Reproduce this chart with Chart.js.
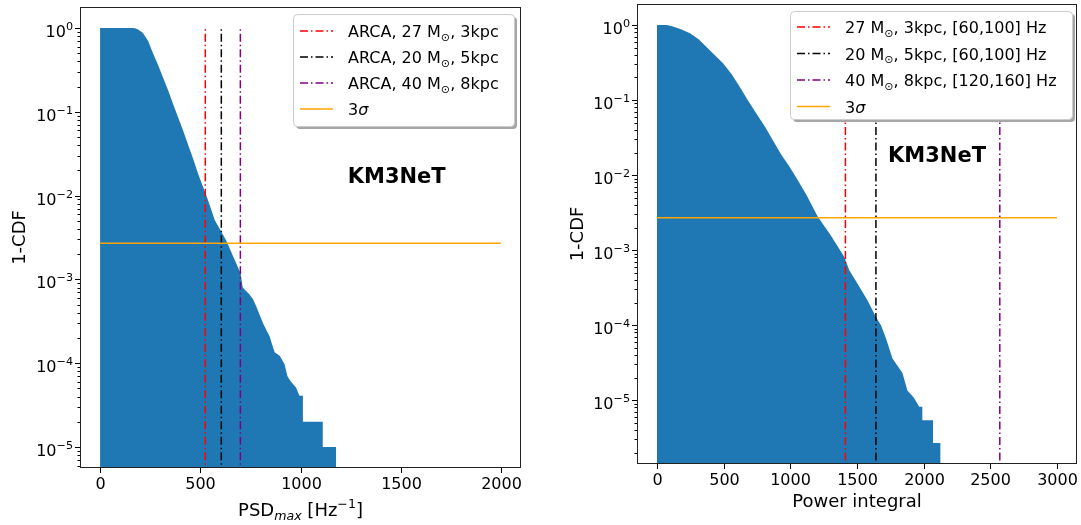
<!DOCTYPE html>
<html>
<head>
<meta charset="utf-8">
<script src="https://cdn.jsdelivr.net/npm/chart.js@4.4.0/dist/chart.umd.min.js"></script>
<style>
  body { margin: 0; background: #fff; width: 1081px; height: 525px; overflow: hidden; }
  canvas { position: absolute; top: 0; }
</style>
</head>
<body>
<canvas id="psdChart" width="540" height="525" style="left:0"></canvas>
<canvas id="powChart" width="541" height="525" style="left:540px"></canvas>
<script>
// left panel: 1-CDF of PSD_max (smooth body, then the last few wide bins)
const psdX = [0, 160, 175, 190, 214, 240, 264, 290, 313, 340, 363, 390, 413, 440, 463, 490, 513, 538, 572, 605, 630, 663, 700,
    712, 721, 746, 763, 779, 796, 813, 829, 846, 854, 871, 896, 920, 935, 949, 978, 995];
const psdCdf = [1, 1, 0.99, 0.96, 0.87, 0.70, 0.50, 0.36, 0.26, 0.18, 0.126, 0.085, 0.061, 0.040, 0.028, 0.018, 0.0128, 0.0089, 0.0051, 0.0037, 0.0029, 0.0019, 0.0012,
    8.0e-4, 7.6e-4, 6.6e-4, 5.8e-4, 4.8e-4, 3.8e-4, 3.0e-4, 2.5e-4, 2.1e-4, 1.8e-4, 1.35e-4, 1.23e-4, 9.8e-5, 7.0e-5, 6.2e-5, 5.1e-5, 4.1e-5];
const psdTailEdges = [995, 1012, 1111, 1178];
const psdTailCdf = [4.1e-5, 2.0e-5, 1.0e-5];
const psdSignalX = [525, 605, 700];
const psdSignalLabels = ['ARCA, 27 M_{⊙}, 3kpc', 'ARCA, 20 M_{⊙}, 5kpc', 'ARCA, 40 M_{⊙}, 8kpc'];
const psdXTicks = [0, 500, 1000, 1500, 2000];

// right panel: 1-CDF of the power integral
const powX = [0, 75, 125, 180, 247, 310, 371, 430, 495, 560, 620, 680, 745, 810, 870, 930, 994, 1055, 1119, 1205, 1300, 1405,
    1442, 1503, 1578, 1642, 1680, 1717, 1766, 1841, 1878, 1928, 1966];
const powCdf = [1, 1, 0.95, 0.88, 0.775, 0.65, 0.51, 0.40, 0.31, 0.22, 0.15, 0.10, 0.066, 0.044, 0.029, 0.019, 0.0129, 0.0086, 0.0055, 0.0028, 0.0016, 8.1e-4,
    5.4e-4, 3.6e-4, 2.15e-4, 1.29e-4, 1.0e-4, 6.7e-5, 3.6e-5, 2.3e-5, 1.35e-5, 1.07e-5, 8.2e-6];
const powTailEdges = [1966, 1990, 2070, 2127];
const powTailCdf = [8.2e-6, 5.4e-6, 2.7e-6];
const powSignalX = [1413, 1642, 2571];
const powSignalLabels = ['27 M_{⊙}, 3kpc, [60,100] Hz', '20 M_{⊙}, 5kpc, [60,100] Hz', '40 M_{⊙}, 8kpc, [120,160] Hz'];
const powXTicks = [0, 500, 1000, 1500, 2000, 2500, 3000];

const signalColors = ['red', 'black', 'purple'];
const threeSigma = 2.7e-3;
const sigmaLabel = '3$σ$';
const yTitle = '1-CDF';

const FONT = '"DejaVu Sans", sans-serif';
const BLUE = '#1f77b4';
const DASHDOT = [8, 3, 1.5, 3];

// tiny mathtext: _{sub}, ^{sup}, $italic$
function parseRich(s) {
    const runs = [];
    let mode = 'n', it = false, buf = '';
    const push = () => { if (buf) runs.push({ t: buf, mode: mode, it: it }); buf = ''; };
    for (let i = 0; i < s.length; i++) {
        const c = s[i];
        if ((c === '_' || c === '^') && s[i + 1] === '{') { push(); mode = c === '_' ? 'sub' : 'sup'; i++; continue; }
        if (c === '}' && mode !== 'n') { push(); mode = 'n'; continue; }
        if (c === '$') { push(); it = !it; continue; }
        buf += c;
    }
    push();
    return runs;
}

function runFont(r, size, weight) {
    const s = r.mode === 'n' ? size : size * 0.7;
    return (r.it ? 'italic ' : '') + (weight || '') + ' ' + s + 'px ' + FONT;
}

function richWidth(ctx, runs, size, weight) {
    let w = 0;
    runs.forEach(r => { ctx.font = runFont(r, size, weight); w += ctx.measureText(r.t).width; });
    return w;
}

// draws at alphabetic baseline y, align 'left' | 'center' | 'right'
function drawRich(ctx, str, x, y, size, align, weight) {
    const runs = parseRich(str);
    const w = richWidth(ctx, runs, size, weight);
    let cx = align === 'center' ? x - w / 2 : align === 'right' ? x - w : x;
    ctx.textBaseline = 'alphabetic';
    ctx.textAlign = 'left';
    runs.forEach(r => {
        ctx.font = runFont(r, size, weight);
        let dy = 0;
        if (r.mode === 'sub') dy = size * 0.22;
        if (r.mode === 'sup') dy = -size * 0.42;
        ctx.fillText(r.t, cx, y + dy);
        cx += ctx.measureText(r.t).width;
    });
}

const decorPlugin = {
    id: 'decor',
    afterDraw(chart, args, o) {
        const { ctx, chartArea: a, scales: { x, y } } = chart;
        ctx.save();
        ctx.fillStyle = '#000';
        ctx.strokeStyle = '#000';
        ctx.lineWidth = 1;

        // x ticks + labels
        o.xTicks.forEach(v => {
            const px = Math.round(x.getPixelForValue(v)) + 0.5;
            ctx.beginPath();
            ctx.moveTo(px, a.bottom); ctx.lineTo(px, a.bottom + 5);
            ctx.stroke();
            drawRich(ctx, String(v), px, a.bottom + 21, 16, 'center');
        });

        // log y ticks: majors with 10^k labels, minors 2..9
        const kLo = Math.floor(Math.log10(y.min)), kHi = Math.ceil(Math.log10(y.max));
        for (let k = kLo; k <= kHi; k++) {
            for (let m = 1; m <= 9; m++) {
                const v = m * Math.pow(10, k);
                if (v < y.min || v > y.max) continue;
                const py = Math.round(y.getPixelForValue(v)) + 0.5;
                ctx.beginPath();
                ctx.moveTo(a.left, py); ctx.lineTo(a.left - (m === 1 ? 5 : 2.5), py);
                ctx.stroke();
                if (m === 1) {
                    const exp = k === 0 ? '0' : '−' + Math.abs(k);
                    drawRich(ctx, '10^{' + exp + '}', a.left - 7, py + 8, 16, 'right');
                }
            }
        }

        // spines
        ctx.strokeStyle = '#222';
        ctx.strokeRect(a.left + 0.5, a.top + 0.5, a.width - 1, a.height - 1);

        // axis titles
        drawRich(ctx, o.xTitle, (a.left + a.right) / 2, a.bottom + o.xTitleDy, 18, 'center');
        ctx.save();
        ctx.translate(o.yTitleX, (a.top + a.bottom) / 2);
        ctx.rotate(-Math.PI / 2);
        drawRich(ctx, yTitle, 0, 0, 18, 'center');
        ctx.restore();

        // KM3NeT tag
        drawRich(ctx, 'KM3NeT', x.getPixelForValue(o.tagX), y.getPixelForValue(o.tagY), 21, 'center', 'bold');

        // legend
        const L = o.legend;
        const items = chart.data.datasets.filter(d => d.label);
        ctx.fillStyle = 'rgba(0,0,0,0.35)';
        roundRect(ctx, L.x + 3, L.y + 3, L.w, L.h, 4); ctx.fill();
        ctx.fillStyle = '#fff';
        ctx.strokeStyle = '#cccccc';
        roundRect(ctx, L.x + 0.5, L.y + 0.5, L.w, L.h, 4); ctx.fill(); ctx.stroke();
        items.forEach((d, i) => {
            const ry = L.y + L.first + i * L.step;
            ctx.strokeStyle = d.borderColor;
            ctx.lineWidth = 1.5;
            ctx.setLineDash(d.borderDash || []);
            ctx.beginPath();
            ctx.moveTo(L.x + 7, ry); ctx.lineTo(L.x + 40, ry);
            ctx.stroke();
            ctx.setLineDash([]);
            ctx.fillStyle = '#000';
            drawRich(ctx, d.label, L.x + 55, ry + 6, 16, 'left');
        });
        ctx.restore();
    }
};

function roundRect(ctx, x, y, w, h, r) {
    ctx.beginPath();
    ctx.moveTo(x + r, y);
    ctx.arcTo(x + w, y, x + w, y + h, r);
    ctx.arcTo(x + w, y + h, x, y + h, r);
    ctx.arcTo(x, y + h, x, y, r);
    ctx.arcTo(x, y, x + w, y, r);
    ctx.closePath();
}

// one outline: read points of the body, then each wide tail bin as a flat top
function outline(xs, ys, edges, heights) {
    const pts = xs.map((v, i) => ({ x: v, y: ys[i] }));
    heights.forEach((h, i) => {
        pts.push({ x: edges[i], y: h });
        pts.push({ x: edges[i + 1], y: h });
    });
    return pts;
}

function makePanel(id, p) {
    const yBottom = 1e-12;
    const datasets = [
        { data: outline(p.bodyX, p.bodyY, p.tailEdges, p.tailY), fill: 'start', backgroundColor: BLUE,
          borderWidth: 0, borderColor: 'transparent', pointRadius: 0, order: 10 }
    ];
    p.signalX.forEach((sx, i) => {
        datasets.push({
            label: p.signalLabels[i],
            data: [{ x: sx, y: yBottom }, { x: sx, y: 1 }],
            borderColor: signalColors[i], borderWidth: 1.5, borderDash: DASHDOT,
            pointRadius: 0, fill: false, order: 1
        });
    });
    datasets.push({
        label: sigmaLabel,
        data: [{ x: p.xTicks[0], y: threeSigma }, { x: p.xTicks[p.xTicks.length - 1], y: threeSigma }],
        borderColor: 'orange', borderWidth: 1.5, pointRadius: 0, fill: false, order: 0
    });

    new Chart(document.getElementById(id), {
        type: 'line',
        data: { datasets: datasets },
        options: {
            responsive: false,
            animation: false,
            devicePixelRatio: 1,
            layout: { padding: p.padding },
            scales: {
                x: { type: 'linear', min: p.xMin, max: p.xMax, display: false },
                y: { type: 'logarithmic', min: p.yMin, max: p.yMax, display: false }
            },
            plugins: {
                legend: { display: false },
                tooltip: { enabled: false },
                decor: p.decor
            }
        },
        plugins: [decorPlugin]
    });
}

makePanel('psdChart', {
    bodyX: psdX, bodyY: psdCdf, tailEdges: psdTailEdges, tailY: psdTailCdf,
    signalX: psdSignalX, signalLabels: psdSignalLabels, xTicks: psdXTicks,
    xMin: -100, xMax: 2100, yMin: Math.pow(10, -5.25), yMax: Math.pow(10, 0.25),
    padding: { left: 80, right: 19, top: 7, bottom: 57 },
    decor: {
        xTicks: psdXTicks, xTitle: 'PSD_{$max$} [Hz^{−1}]', xTitleDy: 48, yTitleX: 25,
        tagX: 1480, tagY: 0.0143,
        legend: { x: 293, y: 14, w: 221, h: 112, first: 17, step: 26 }
    }
});

makePanel('powChart', {
    bodyX: powX, bodyY: powCdf, tailEdges: powTailEdges, tailY: powTailCdf,
    signalX: powSignalX, signalLabels: powSignalLabels, xTicks: powXTicks,
    xMin: -150, xMax: 3150, yMin: Math.pow(10, -5.85), yMax: Math.pow(10, 0.28),
    padding: { left: 97, right: 4, top: 4, bottom: 61 },
    decor: {
        xTicks: powXTicks, xTitle: 'Power integral', xTitleDy: 43, yTitleX: 43,
        tagX: 2100, tagY: 0.0149,
        legend: { x: 250, y: 11, w: 282, h: 108, first: 16, step: 26.5 }
    }
});
</script>
</body>
</html>
